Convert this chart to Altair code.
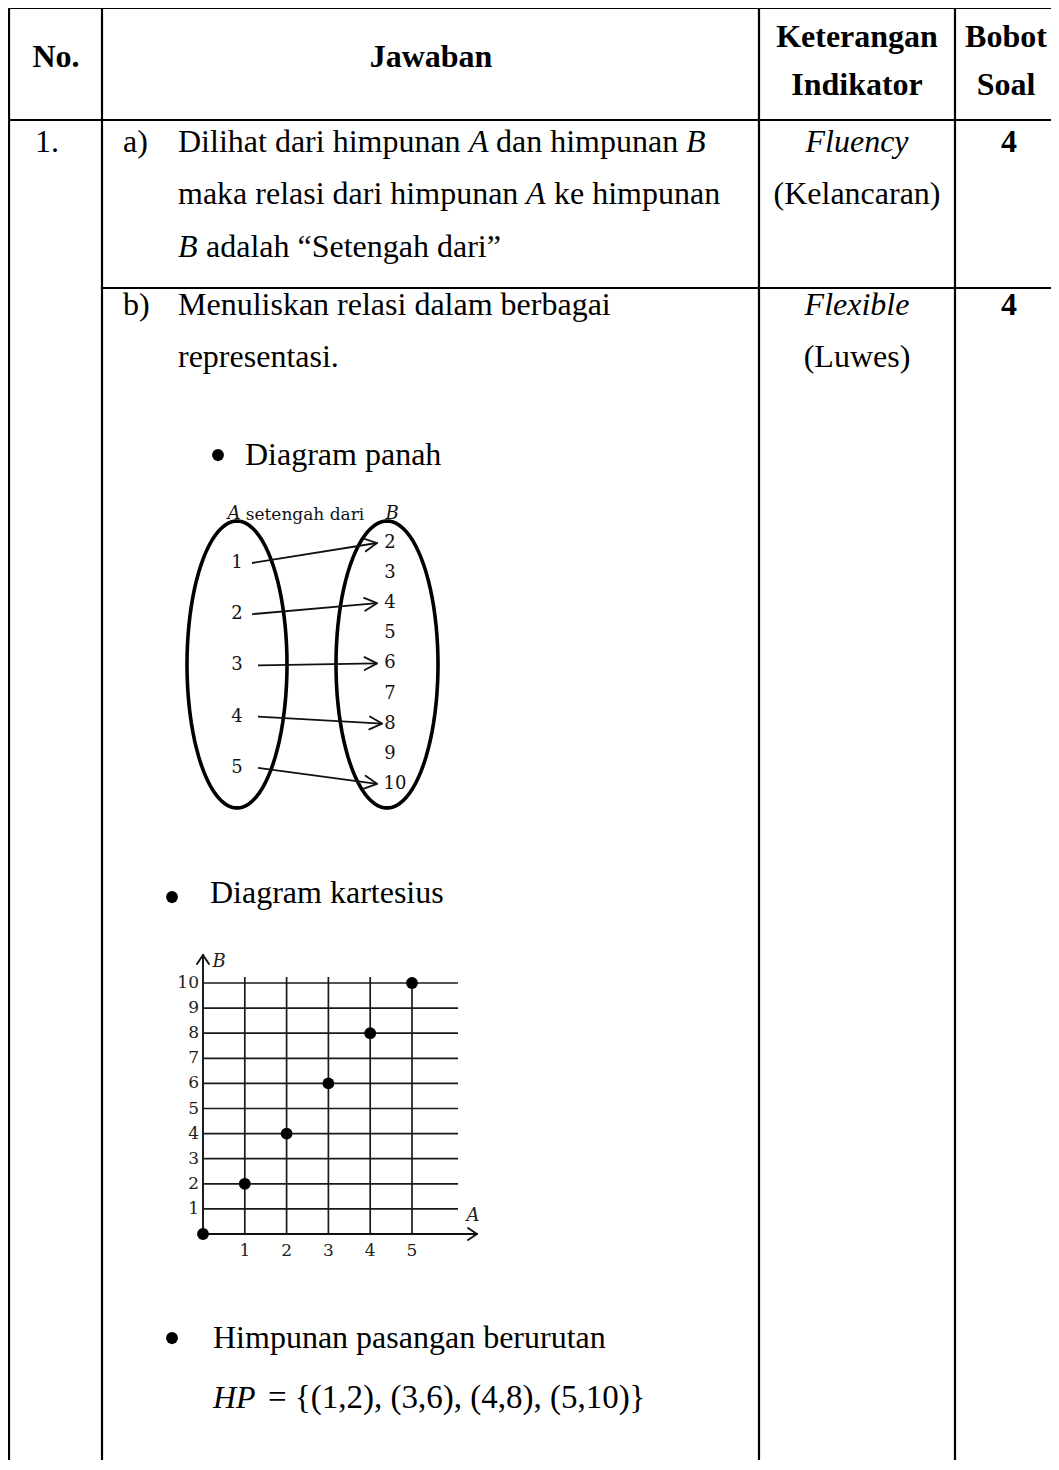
import altair as alt
import pandas as pd

# ---------------- content ----------------
HEADER = ["No.", "Jawaban", "Keterangan", "Indikator", "Bobot", "Soal"]
ROW_NO = "1."
ITEM_LABELS = ["a)", "b)"]
ROW_A_PLAIN = ["Dilihat dari himpunan", "dan himpunan", "maka relasi dari himpunan",
               "ke himpunan", "adalah “Setengah dari”"]
ROW_A_ITALIC = ["A", "B", "A", "B"]
ROW_B_TEXT = ["Menuliskan relasi dalam berbagai", "representasi."]
INDICATOR_ITALIC = ["Fluency", "Flexible"]
INDICATOR_PLAIN = ["(Kelancaran)", "(Luwes)"]
WEIGHTS = ["4", "4"]
BULLET_ITEMS = ["Diagram panah", "Diagram kartesius", "Himpunan pasangan berurutan"]
HP_NAME = "HP"
HP_SET = "= {(1,2), (3,6), (4,8), (5,10)}"
RELATION_NAME = "setengah dari"
SET_NAMES = ["A", "B"]
SET_A = [1, 2, 3, 4, 5]
SET_B = [2, 3, 4, 5, 6, 7, 8, 9, 10]
PAIR_A = [1, 2, 3, 4, 5]
PAIR_B = [2, 4, 6, 8, 10]
CART_A = [0, 1, 2, 3, 4, 5]
CART_B = [0, 2, 4, 6, 8, 10]
TICKS_A = [1, 2, 3, 4, 5]
TICKS_B = [1, 2, 3, 4, 5, 6, 7, 8, 9, 10]

# ---------------- layout (page pixel frame) ----------------
PAD = 8
W, H = 1059 - 16 - 2 * PAD, 1470 - 16 - 2 * PAD - 2
X0 = 8 + PAD
PX = alt.Scale(domain=[X0, X0 + W], nice=False, zero=False)
PY = alt.Scale(domain=[X0, X0 + H], nice=False, zero=False, reverse=True)
SERIF = "Liberation Serif"
DIAG = "DejaVu Serif"
INK = "#111111"


def X(f):
    return alt.X(f, type="quantitative", scale=PX, axis=None)


def Y(f):
    return alt.Y(f, type="quantitative", scale=PY, axis=None)


def rules(df, width=2.0, color="black", cap="square"):
    return alt.Chart(df).mark_rule(strokeWidth=width, color=color, strokeCap=cap).encode(
        x=X("x"), y=Y("y"), x2="x2:Q", y2="y2:Q")


def texts(df, align="left", baseline="alphabetic", font=SERIF, size=32,
          weight="normal", style="normal", color="black"):
    return alt.Chart(df).mark_text(
        align=align, baseline=baseline, font=font, fontSize=size,
        fontWeight=weight, fontStyle=style, color=color).encode(
        x=X("x"), y=Y("y"), text="t:N")


layers = []

# ---- table grid ----
grid = pd.DataFrame({
    "x":  [9, 9, 102, 9, 102, 759, 955],
    "y":  [8, 120, 288, 8, 8, 8, 8],
    "x2": [1059, 1059, 1059, 9, 102, 759, 955],
    "y2": [8, 120, 288, 1470, 1470, 1470, 1470],
})
layers.append(rules(grid, 2.2))

# ---- header (bold, centered) ----
head = pd.DataFrame({"t": HEADER,
                     "x": [56, 431, 857, 857, 1006, 1006],
                     "y": [67, 67, 47, 95, 47, 95]})
layers.append(texts(head, align="center", weight="bold"))

# ---- weights (bold, centered) ----
wdf = pd.DataFrame({"t": WEIGHTS, "x": [1009, 1009], "y": [152, 315]})
layers.append(texts(wdf, align="center", weight="bold"))

# ---- plain left-aligned body text ----
plain = pd.DataFrame({
    "t": [ROW_NO] + ITEM_LABELS + ROW_A_PLAIN + ROW_B_TEXT + BULLET_ITEMS,
    "x": [35, 123, 123, 178, 496, 178, 554, 206, 178, 178, 245, 210, 213],
    "y": [152, 152, 315, 152, 152, 204, 204, 257, 315, 367, 465, 903, 1348],
})
layers.append(texts(plain))

hp_set = pd.DataFrame({"t": [HP_SET], "x": [268], "y": [1408]})
layers.append(texts(hp_set, size=33))

# ---- italic left-aligned pieces ----
ital = pd.DataFrame({"t": ROW_A_ITALIC + [HP_NAME],
                     "x": [469, 686, 526, 178, 213],
                     "y": [152, 152, 204, 257, 1408]})
layers.append(texts(ital, style="italic"))

# ---- indicator column ----
ind_i = pd.DataFrame({"t": INDICATOR_ITALIC, "x": [857, 857], "y": [152, 315]})
ind_p = pd.DataFrame({"t": INDICATOR_PLAIN, "x": [857, 857], "y": [204, 367]})
layers.append(texts(ind_i, align="center", style="italic"))
layers.append(texts(ind_p, align="center"))

# ---- bullets ----
bul = pd.DataFrame({"t": ["•"] * 3, "x": [218, 172, 172], "y": [457, 899, 1340]})
layers.append(texts(bul, align="center", baseline="middle", size=50))

# ---------------- arrow diagram ----------------
ovals = alt.Chart(alt.sequence(0, 361, 4, as_="deg")).transform_calculate(
    tt="datum.deg * PI / 180",
    xa="237 + 50 * cos(datum.tt)",
    xb="387 + 51 * cos(datum.tt)",
    y="664.5 + 143.5 * sin(datum.tt)",
).transform_fold(["xa", "xb"], as_=["oval", "x"]).mark_line(
    strokeWidth=3.6, color="black").encode(
    x=X("x"), y=Y("y"), detail="oval:N", order="deg:Q")
layers.append(ovals)

rel_title = pd.DataFrame({"t": [RELATION_NAME], "x": [305], "y": [515]})
layers.append(texts(rel_title, align="center", baseline="middle", font=DIAG, size=17,
                    color=INK))
set_names = pd.DataFrame({"t": SET_NAMES, "x": [234, 392], "y": [514, 514]})
layers.append(texts(set_names, align="center", baseline="middle", font=DIAG, size=18,
                    style="italic", color=INK))

la = alt.Chart(pd.DataFrame({"v": SET_A})).transform_calculate(
    x="237", y="563 + (datum.v - 1) * 51.2", t="format(datum.v, 'd')")
layers.append(la.mark_text(align="center", baseline="middle", font=DIAG, fontSize=18,
                           color=INK).encode(x=X("x"), y=Y("y"), text="t:N"))
lb = alt.Chart(pd.DataFrame({"v": SET_B})).transform_calculate(
    x="datum.v == 10 ? 395 : 390", y="543 + (datum.v - 2) * 30.1",
    t="format(datum.v, 'd')")
layers.append(lb.mark_text(align="center", baseline="middle", font=DIAG, fontSize=18,
                           color=INK).encode(x=X("x"), y=Y("y"), text="t:N"))

arr = alt.Chart(pd.DataFrame({"a": PAIR_A, "b": PAIR_B})).transform_calculate(
    x="datum.a <= 2 ? 252 : 258",
    y="563 + (datum.a - 1) * 51.2",
    x2="datum.a == 4 ? 382 : 377",
    y2="543 + (datum.b - 2) * 30.1",
).transform_calculate(
    ang="atan2(datum.y2 - datum.y, datum.x2 - datum.x)",
).transform_calculate(
    hx1="datum.x2 - 14 * cos(datum.ang - 0.48)",
    hy1="datum.y2 - 14 * sin(datum.ang - 0.48)",
    hx2="datum.x2 - 14 * cos(datum.ang + 0.48)",
    hy2="datum.y2 - 14 * sin(datum.ang + 0.48)",
)
layers.append(arr.mark_rule(strokeWidth=1.8, color=INK).encode(
    x=X("x"), y=Y("y"), x2="x2:Q", y2="y2:Q"))
layers.append(arr.mark_rule(strokeWidth=1.8, color=INK, strokeCap="round").encode(
    x=X("hx1"), y=Y("hy1"), x2="x2:Q", y2="y2:Q"))
layers.append(arr.mark_rule(strokeWidth=1.8, color=INK, strokeCap="round").encode(
    x=X("hx2"), y=Y("hy2"), x2="x2:Q", y2="y2:Q"))

# ---------------- cartesian diagram ----------------
OX, OY, UX, UY = 203, 1234, 41.8, 25.1

gh = alt.Chart(pd.DataFrame({"v": TICKS_B})).transform_calculate(
    x=f"{OX}", x2="458", y=f"{OY} - {UY} * datum.v", y2=f"{OY} - {UY} * datum.v")
layers.append(gh.mark_rule(strokeWidth=1.7, color="#1a1a1a").encode(
    x=X("x"), y=Y("y"), x2="x2:Q", y2="y2:Q"))
gv = alt.Chart(pd.DataFrame({"v": TICKS_A})).transform_calculate(
    x=f"{OX} + {UX} * datum.v", x2=f"{OX} + {UX} * datum.v", y=f"{OY}", y2="977")
layers.append(gv.mark_rule(strokeWidth=1.7, color="#1a1a1a").encode(
    x=X("x"), y=Y("y"), x2="x2:Q", y2="y2:Q"))

axes = pd.DataFrame({
    "x":  [OX, OX - 3, OX, OX, 477, 477],
    "y":  [OY + 4, OY, 955, 955, OY, OY],
    "x2": [OX, 477, OX - 6, OX + 6, 468, 468],
    "y2": [955, OY, 964, 964, OY - 6, OY + 6],
})
layers.append(rules(axes, 1.9, INK, "round"))

ytl = alt.Chart(pd.DataFrame({"v": TICKS_B})).transform_calculate(
    x="199", y=f"{OY} - {UY} * datum.v", t="format(datum.v, 'd')")
layers.append(ytl.mark_text(align="right", baseline="middle", font=DIAG, fontSize=17,
                            color="#222").encode(x=X("x"), y=Y("y"), text="t:N"))
xtl = alt.Chart(pd.DataFrame({"v": TICKS_A})).transform_calculate(
    x=f"{OX} + {UX} * datum.v", y="1251", t="format(datum.v, 'd')")
layers.append(xtl.mark_text(align="center", baseline="middle", font=DIAG, fontSize=17,
                            color="#222").encode(x=X("x"), y=Y("y"), text="t:N"))

axname = pd.DataFrame({"t": ["B", "A"], "x": [219, 473], "y": [962, 1216]})
layers.append(texts(axname, align="center", baseline="middle", font=DIAG, size=18,
                    style="italic", color="#222"))

pts = alt.Chart(pd.DataFrame({"a": CART_A, "b": CART_B})).transform_calculate(
    x=f"{OX} + {UX} * datum.a", y=f"{OY} - {UY} * datum.b")
layers.append(pts.mark_circle(size=140, color="black", opacity=1).encode(
    x=X("x"), y=Y("y")))

chart = alt.layer(*layers).properties(
    width=W, height=H, padding=PAD,
    autosize=alt.AutoSizeParams(type="none"),
    background="white",
).configure_view(stroke=None)

chart.save("out.html", embed_options={"renderer": "svg", "actions": False})
